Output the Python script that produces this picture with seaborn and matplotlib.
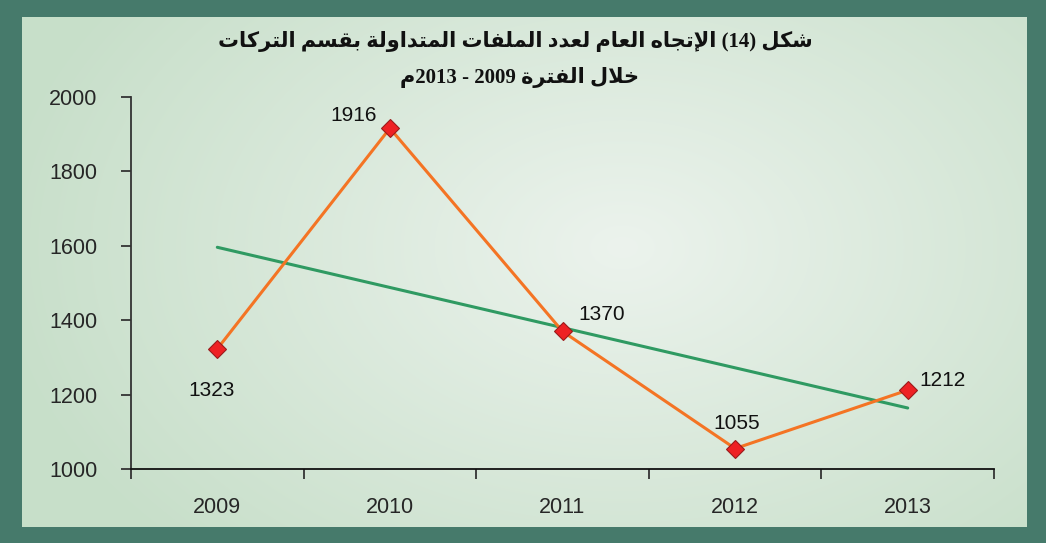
import matplotlib
matplotlib.use("Agg")
import matplotlib.pyplot as plt
import seaborn as sns
import numpy as np

#### data
years = ["2009", "2010", "2011", "2012", "2013"]
files = [1323, 1916, 1370, 1055, 1212]
trend_ends = [1596, 1164]          # trend line, at 2009 and 2013
label_offsets = [(-4, -30), (-26, 9), (28, 12), (1, 18), (25, 7)]   # points

title_1 = ["شكل", "(14)", "الإتجاه", "العام", "لعدد", "الملفات", "المتداولة", "بقسم", "التركات"]
title_2 = ["خلال", "الفترة", "2009", "-", "2013م"]

#### tiny arabic shaper (no reshaper lib here)
AR = {
    'ا': ('\uFE8D', '\uFE8E', None, None),
    'إ': ('\uFE87', '\uFE88', None, None),
    'ب': ('\uFE8F', '\uFE90', '\uFE91', '\uFE92'),
    'ة': ('\uFE93', '\uFE94', None, None),
    'ت': ('\uFE95', '\uFE96', '\uFE97', '\uFE98'),
    'ج': ('\uFE9D', '\uFE9E', '\uFE9F', '\uFEA0'),
    'خ': ('\uFEA5', '\uFEA6', '\uFEA7', '\uFEA8'),
    'د': ('\uFEA9', '\uFEAA', None, None),
    'ر': ('\uFEAD', '\uFEAE', None, None),
    'س': ('\uFEB1', '\uFEB2', '\uFEB3', '\uFEB4'),
    'ش': ('\uFEB5', '\uFEB6', '\uFEB7', '\uFEB8'),
    'ع': ('\uFEC9', '\uFECA', '\uFECB', '\uFECC'),
    'ف': ('\uFED1', '\uFED2', '\uFED3', '\uFED4'),
    'ق': ('\uFED5', '\uFED6', '\uFED7', '\uFED8'),
    'ك': ('\uFED9', '\uFEDA', '\uFEDB', '\uFEDC'),
    'ل': ('\uFEDD', '\uFEDE', '\uFEDF', '\uFEE0'),
    'م': ('\uFEE1', '\uFEE2', '\uFEE3', '\uFEE4'),
    'ه': ('\uFEE9', '\uFEEA', '\uFEEB', '\uFEEC'),
    'و': ('\uFEED', '\uFEEE', None, None),
    'لا': ('\uFEFB', '\uFEFC', None, None),
    'لإ': ('\uFEF9', '\uFEFA', None, None),
}


def shape(word):
    units = []
    i = 0
    while i < len(word):
        if word[i] == 'ل' and i + 1 < len(word) and word[i + 1] in 'اإ':
            units.append(word[i:i + 2])
            i += 2
        else:
            units.append(word[i])
            i += 1
    out = []
    for k, u in enumerate(units):
        f = AR[u]
        prev = AR.get(units[k - 1]) if k > 0 else None
        nxt = AR.get(units[k + 1]) if k + 1 < len(units) else None
        jp = prev is not None and prev[2] is not None
        jn = nxt is not None and f[2] is not None
        if jp and jn:
            out.append(f[3])
        elif jp:
            out.append(f[1])
        elif jn:
            out.append(f[2])
        else:
            out.append(f[0])
    return "".join(out)[::-1]


def visual(token):
    # split into arabic / non-arabic runs, reverse run order
    runs = []
    for ch in token:
        a = ch in AR
        if runs and runs[-1][0] == a:
            runs[-1][1] += ch
        else:
            runs.append([a, ch])
    return "".join(shape(r) if a else r for a, r in reversed(runs))


def rtl(words):
    return " ".join(visual(w) for w in reversed(words))


#### plot
sns.set_style("white")
plt.rcParams['font.family'] = ['Liberation Sans', 'DejaVu Sans']

fig = plt.figure(figsize=(10.46, 5.43), dpi=100)
fig.patch.set_facecolor("#467a6b")

# background panel with soft radial gradient
bg = fig.add_axes([22 / 1046, 16 / 543, 1005 / 1046, 510 / 543])
yy, xx = np.mgrid[0:510, 0:1005]
d = np.sqrt(((xx - 600) / 620.0) ** 2 + ((yy - 230) / 420.0) ** 2)
d = np.clip(d, 0, 1)
c_in = np.array([0.925, 0.953, 0.929])
c_out = np.array([0.784, 0.875, 0.792])
img = c_in[None, None, :] * (1 - d[..., None]) + c_out[None, None, :] * d[..., None]
bg.imshow(img, aspect="auto", interpolation="bilinear")
bg.set_axis_off()

ax = fig.add_axes([131 / 1046, (543 - 469) / 543, (994 - 131) / 1046, (469 - 97) / 543])
ax.patch.set_alpha(0)

x = np.arange(len(years))
sns.lineplot(x=x, y=files, ax=ax, color="#f47424", linewidth=2.2,
             marker="D", markersize=9, markerfacecolor="#ee2124",
             markeredgecolor="#9a1b1b", markeredgewidth=0.8, zorder=3)
sns.lineplot(x=[x[0], x[-1]], y=trend_ends, ax=ax, color="#2f9a62",
             linewidth=2.2, zorder=2)

for xi, v, off in zip(x, files, label_offsets):
    ax.annotate(str(v), (xi, v), xytext=off, textcoords="offset points",
                ha="center", va="center", fontsize=15, color="#111111")

ax.set_xlim(-0.5, len(years) - 0.5)
ax.set_ylim(1000, 2000)
ax.set_yticks(range(1000, 2001, 200))
ax.set_yticklabels([str(v) for v in range(1000, 2001, 200)], fontsize=15.5)

# ticks on category borders, labels in the middle
ax.set_xticks(np.arange(-0.5, len(years), 1.0))
ax.set_xticklabels([])
ax.set_xticks(x, minor=True)
ax.set_xticklabels(years, minor=True, fontsize=15.5)
ax.tick_params(axis="x", which="major", direction="out", length=7, width=1.3,
               color="#333333", bottom=True)
ax.tick_params(axis="x", which="minor", length=0, pad=20)
ax.tick_params(axis="y", direction="out", length=7, width=1.3,
               color="#333333", left=True, pad=17)

for s in ["top", "right"]:
    ax.spines[s].set_visible(False)
ax.spines["left"].set_color("#333333")
ax.spines["left"].set_linewidth(1.3)
ax.spines["bottom"].set_color("#111111")
ax.spines["bottom"].set_linewidth(1.3)
ax.set_xlabel("")
ax.set_ylabel("")

tfam = ['Liberation Serif', 'DejaVu Sans']
fig.text(515 / 1046, 1 - 42 / 543, rtl(title_1), ha="center", va="center",
         fontsize=15, fontweight="bold", family=tfam, color="#111111")
fig.text(520 / 1046, 1 - 77 / 543, rtl(title_2), ha="center", va="center",
         fontsize=15, fontweight="bold", family=tfam, color="#111111")

plt.savefig("out.png", dpi=100, facecolor=fig.get_facecolor())
